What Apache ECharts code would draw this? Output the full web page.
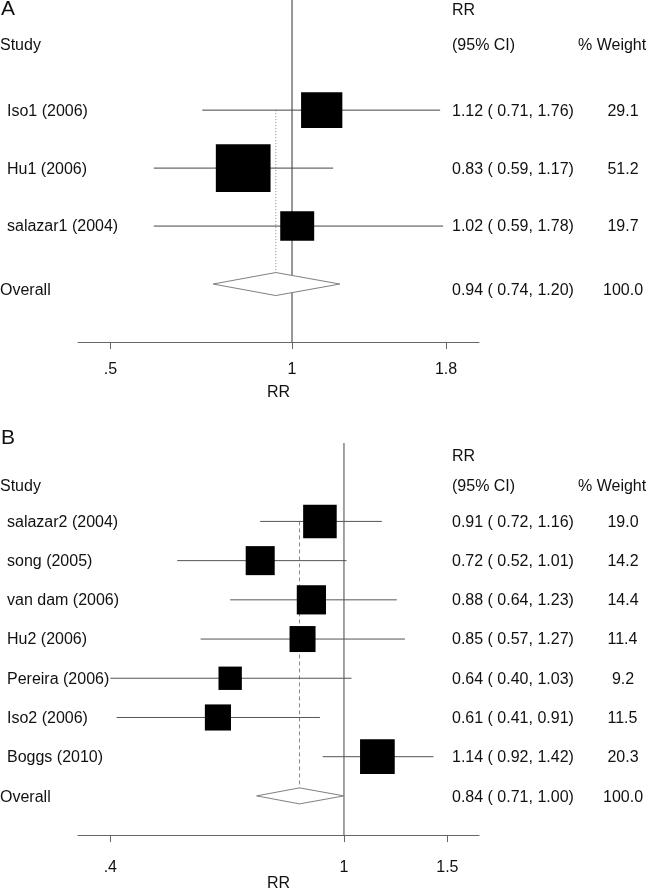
<!DOCTYPE html>
<html><head><meta charset="utf-8">
<script src="https://cdn.jsdelivr.net/npm/echarts@6/dist/echarts.min.js"></script>
<style>html,body{margin:0;padding:0;background:#fff}#c{width:650px;height:893px}</style>
</head><body><div id="c"></div>
<script>
// ---------- Panel A data ----------
const studiesA = ['Iso1 (2006)', 'Hu1 (2006)', 'salazar1 (2004)'];
const rrA = [1.12, 0.83, 1.02];
const loA = [0.71, 0.59, 0.59];
const hiA = [1.76, 1.17, 1.78];
const wA = [29.1, 51.2, 19.7];
const overallA = [0.94, 0.74, 1.20, 100.0]; // rr, lo, hi, weight
const ticksA = [0.5, 1, 1.8];
const tickLabelsA = ['.5', '1', '1.8'];

// ---------- Panel B data ----------
const studiesB = ['salazar2 (2004)', 'song (2005)', 'van dam (2006)', 'Hu2 (2006)', 'Pereira (2006)', 'Iso2 (2006)', 'Boggs (2010)'];
const rrB = [0.91, 0.72, 0.88, 0.85, 0.64, 0.61, 1.14];
const loB = [0.72, 0.52, 0.64, 0.57, 0.40, 0.41, 0.92];
const hiB = [1.16, 1.01, 1.23, 1.27, 1.03, 0.91, 1.42];
const wB = [19.0, 14.2, 14.4, 11.4, 9.2, 11.5, 20.3];
const overallB = [0.84, 0.71, 1.00, 100.0];
const ticksB = [0.4, 1, 1.5];
const tickLabelsB = ['.4', '1', '1.5'];

const FONT = '"Liberation Sans", Arial, sans-serif';
const ln = Math.log;

const panels = [
  {studies: studiesA, rr: rrA, lo: loA, hi: hiA, w: wA, ov: overallA, ticks: ticksA, tickLabels: tickLabelsA,
   range: [0.4418, 2.0415], rowMin: -0.9, rowMax: 5,
   grid: {left: 78, width: 401, top: 0, height: 342},
   boxKx: 7.65, boxKy: 6.65, diamondH: 11.5, ovTextDy: 7, ciColor: '#444', nullColor: '#333',
   dash: [1, 2], labelMargin: 20, nameGap: 43},
  {studies: studiesB, rr: rrB, lo: loB, hi: hiB, w: wB, ov: overallB, ticks: ticksB, tickLabels: tickLabelsB,
   range: [0.3524, 1.698], rowMin: -1, rowMax: 9,
   grid: {left: 78, width: 401, top: 443, height: 394},
   boxKx: 7.7, boxKy: 7.7, diamondH: 8, ovTextDy: 2, ciColor: '#555', nullColor: '#444',
   dash: [4, 3], labelMargin: 24, nameGap: 40}
];

const grids = [], xAxes = [], yAxes = [], series = [];

panels.forEach((p, k) => {
  const n = p.studies.length;
  grids.push(p.grid);
  const tv = p.ticks.map(ln);
  xAxes.push({
    type: 'value', gridIndex: k, min: ln(p.range[0]), max: ln(p.range[1]),
    axisLine: {show: true, onZero: false, lineStyle: {color: '#666', width: 1}},
    axisTick: {show: true, customValues: tv, length: 7, lineStyle: {color: '#666'}},
    axisLabel: {customValues: tv, margin: p.labelMargin, fontSize: 16, fontFamily: FONT, color: '#111',
      formatter: v => { for (let i = 0; i < tv.length; i++) if (Math.abs(tv[i] - v) < 1e-6) return p.tickLabels[i]; return ''; }},
    splitLine: {show: false},
    name: 'RR', nameLocation: 'middle', nameGap: p.nameGap,
    nameTextStyle: {fontSize: 16, fontFamily: FONT, color: '#111'}
  });
  yAxes.push({type: 'value', gridIndex: k, min: p.rowMin, max: p.rowMax, inverse: true, show: false});

  // null line at RR = 1
  series.push({type: 'line', xAxisIndex: k, yAxisIndex: k, silent: true, symbol: 'none', z: 1,
    data: [[0, p.rowMin], [0, p.rowMax]], lineStyle: {color: p.nullColor, width: 1}});
  // overall dotted line
  series.push({type: 'line', xAxisIndex: k, yAxisIndex: k, silent: true, symbol: 'none', z: 1,
    data: [[ln(p.ov[0]), 1], [ln(p.ov[0]), n + 1]], lineStyle: {color: '#888', width: 1, type: p.dash}});
  // CI lines
  series.push({type: 'custom', xAxisIndex: k, yAxisIndex: k, silent: true, z: 2,
    data: p.studies.map((s, i) => [ln(p.lo[i]), ln(p.hi[i]), i + 1]),
    encode: {x: [0, 1], y: 2},
    renderItem: (params, api) => {
      const a = api.coord([api.value(0), api.value(2)]);
      const b = api.coord([api.value(1), api.value(2)]);
      return {type: 'line', shape: {x1: a[0], y1: a[1], x2: b[0], y2: b[1]},
        style: {stroke: p.ciColor, lineWidth: 1}};
    }});
  // boxes
  series.push({type: 'custom', xAxisIndex: k, yAxisIndex: k, silent: true, z: 3,
    data: p.studies.map((s, i) => [ln(p.rr[i]), i + 1, p.w[i]]),
    encode: {x: 0, y: 1},
    renderItem: (params, api) => {
      const c = api.coord([api.value(0), api.value(1)]);
      const sw = p.boxKx * Math.sqrt(api.value(2));
      const sh = p.boxKy * Math.sqrt(api.value(2));
      return {type: 'rect', shape: {x: c[0] - sw / 2, y: c[1] - sh / 2, width: sw, height: sh},
        style: {fill: '#000'}};
    }});
  // overall diamond
  series.push({type: 'custom', xAxisIndex: k, yAxisIndex: k, silent: true, z: 3,
    data: [[ln(p.ov[1]), ln(p.ov[0]), ln(p.ov[2]), n + 1]],
    encode: {x: [0, 1, 2], y: 3},
    renderItem: (params, api) => {
      const row = api.value(3);
      const l = api.coord([api.value(0), row]);
      const m = api.coord([api.value(1), row]);
      const r = api.coord([api.value(2), row]);
      const h = p.diamondH;
      return {type: 'polygon', shape: {points: [[l[0], l[1]], [m[0], m[1] - h], [r[0], r[1]], [m[0], m[1] + h]]},
        style: {fill: '#fff', stroke: '#808080', lineWidth: 1}};
    }});
  // row texts
  const rows = p.studies.map((s, i) => ({label: s, rr: p.rr[i], lo: p.lo[i], hi: p.hi[i], w: p.w[i], ov: false}));
  rows.push({label: 'Overall', rr: p.ov[0], lo: p.ov[1], hi: p.ov[2], w: p.ov[3], ov: true});
  series.push({type: 'custom', xAxisIndex: k, yAxisIndex: k, silent: true, z: 10,
    data: rows.map((r, i) => [ln(p.range[0]), i + 1]),
    encode: {x: 0, y: 1},
    renderItem: (params, api) => {
      const r = rows[params.dataIndex];
      const y = api.coord([api.value(0), api.value(1)])[1] + (r.ov ? p.ovTextDy : 1);
      const ts = (txt, x) => ({type: 'text', x: x, y: y,
        style: {text: txt, fill: '#111', fontSize: 16, fontFamily: FONT, align: 'left', verticalAlign: 'middle'}});
      return {type: 'group', children: [
        ts(r.label, r.ov ? 0 : 7),
        ts(r.rr.toFixed(2) + ' ( ' + r.lo.toFixed(2) + ', ' + r.hi.toFixed(2) + ')', 452),
        ts(r.w.toFixed(1).padStart(5, ' '), 603)
      ]};
    }});
});

const hdr = (txt, x, y, size) => ({type: 'text', x: x, y: y, silent: true,
  style: {text: txt, fill: '#111', fontSize: size || 16, fontFamily: FONT, align: 'left', verticalAlign: 'middle'}});

const chart = echarts.init(document.getElementById('c'), null, {renderer: 'canvas'});
chart.setOption({
  animation: false,
  backgroundColor: '#fff',
  grid: grids, xAxis: xAxes, yAxis: yAxes, series: series,
  graphic: [
    hdr('A', 1, 9, 21), hdr('RR', 452, 11), hdr('Study', 0, 46), hdr('(95% CI)', 452, 46), hdr('% Weight', 578, 46),
    hdr('B', 1, 438, 21), hdr('RR', 452, 457), hdr('Study', 0, 487), hdr('(95% CI)', 452, 487), hdr('% Weight', 578, 487)
  ]
});
</script>
</body></html>
